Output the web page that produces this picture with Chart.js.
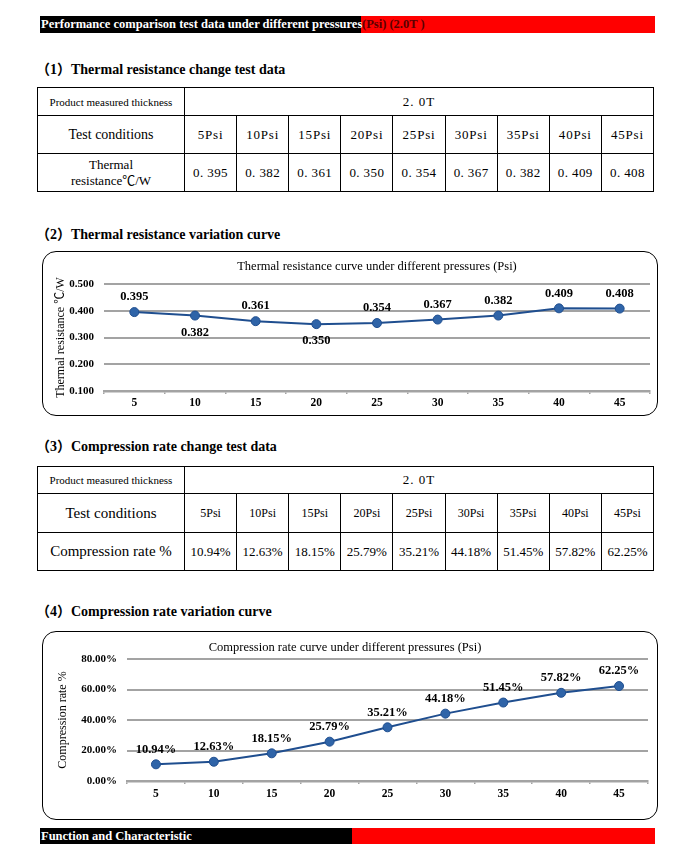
<!DOCTYPE html>
<html>
<head>
<meta charset="utf-8">
<script src="https://cdn.jsdelivr.net/npm/chart.js@4.4.0/dist/chart.umd.min.js"></script>
<style>
body { margin:0; background:#fff; font-family:'Liberation Serif','Times New Roman','Noto Sans CJK SC',serif; color:#000; }
#page { position:relative; width:700px; height:860px; overflow:hidden; }
.bar { position:absolute; left:40px; width:615px; background:#ff0000; font-weight:bold; font-size:12.5px; white-space:nowrap; overflow:hidden; }
.bar .blk { position:absolute; left:0; top:0; bottom:0; background:#000; color:#fff; padding-left:1px; box-sizing:border-box; }
.bar .rest { position:absolute; top:0; bottom:0; color:#5a0000; }
.sec { position:absolute; left:36px; font-weight:bold; font-size:14px; line-height:18px; white-space:nowrap; }
table { position:absolute; left:37px; width:617px; border-collapse:collapse; table-layout:fixed; }
td { border:1px solid #000; text-align:center; padding:0; }
.box { position:absolute; border:1.5px solid #000; border-radius:14px; box-sizing:border-box; pointer-events:none; }
canvas { position:absolute; }
</style>
</head>
<body>
<div id="page">
  <div class="bar" style="top:16px;height:17px;line-height:17px;">
    <div class="blk" style="width:321px;">Performance comparison test data under different pressures</div>
    <div class="rest" style="left:322px;">(Psi) (2.0T )</div>
  </div>

  <div class="sec" style="top:61px;">（1）Thermal resistance change test data</div>
  <table id="t1" style="top:87px;">
    <colgroup><col style="width:147px"><col span="9"></colgroup>
    <tr style="height:28px"><td style="font-size:11px">Product measured thickness</td><td colspan="9" style="font-size:13px;letter-spacing:1px">2. 0T</td></tr>
    <tr style="height:38px" id="t1cond"><td style="font-size:14px">Test conditions</td></tr>
    <tr style="height:38px" id="t1val"><td style="font-size:13px;line-height:16px">Thermal<br>resistance℃/W</td></tr>
  </table>

  <div class="sec" style="top:226px;">（2）Thermal resistance variation curve</div>
  <canvas id="c1" width="616" height="165" style="left:42px;top:251px;"></canvas>
  <div class="box" style="left:42px;top:251px;width:616px;height:165px;"></div>

  <div class="sec" style="top:438px;">（3）Compression rate change test data</div>
  <table id="t2" style="top:466px;">
    <colgroup><col style="width:147px"><col span="9"></colgroup>
    <tr style="height:27px"><td style="font-size:11px">Product measured thickness</td><td colspan="9" style="font-size:13px;letter-spacing:1px">2. 0T</td></tr>
    <tr style="height:39px" id="t2cond"><td style="font-size:15px">Test conditions</td></tr>
    <tr style="height:38px" id="t2val"><td style="font-size:15px">Compression rate %</td></tr>
  </table>

  <div class="sec" style="top:603px;">（4）Compression rate variation curve</div>
  <canvas id="c2" width="616" height="189" style="left:42px;top:631px;"></canvas>
  <div class="box" style="left:42px;top:631px;width:616px;height:189px;"></div>

  <div class="bar" style="top:828px;height:16px;line-height:16px;">
    <div class="blk" style="width:312px;">Function and Characteristic</div>
  </div>
</div>
<script>
var pressures = ['5', '10', '15', '20', '25', '30', '35', '40', '45'];
var thermalRes = [0.395, 0.382, 0.361, 0.350, 0.354, 0.367, 0.382, 0.409, 0.408];
var compRate = [10.94, 12.63, 18.15, 25.79, 35.21, 44.18, 51.45, 57.82, 62.25];
var resTickMin = 0.1, resTickMax = 0.5, resTickStep = 0.1;
var rateTickMin = 0, rateTickMax = 80, rateTickStep = 20;

var serif = "'Liberation Serif', 'Times New Roman', serif";
var serifCjk = "'Liberation Serif', 'Noto Sans CJK SC', serif";
var gridGrey = '#a3a3a3';
var lineBlue = '#1f4e8f';
var dotBlue = '#2f64a8';

// fill table cells
function fillRow(id, list, fn, style) {
    var tr = document.getElementById(id);
    for (var i = 0; i < list.length; i++) {
        var td = document.createElement('td');
        td.textContent = fn(list[i]);
        td.setAttribute('style', style);
        tr.appendChild(td);
    }
}
fillRow('t1cond', pressures, function(p){ return p + 'Psi'; }, 'font-size:13px;letter-spacing:0.8px');
fillRow('t1val', thermalRes, function(v){ return v.toFixed(3).replace('.', '. '); }, 'font-size:13px;letter-spacing:0.4px');
fillRow('t2cond', pressures, function(p){ return p + 'Psi'; }, 'font-size:12px');
fillRow('t2val', compRate, function(v){ return v.toFixed(2) + '%'; }, 'font-size:13px');

// value labels next to the points
function makeLabels(format, below) {
    return {
        id: 'pointLabels',
        afterDatasetsDraw: function(chart) {
            var ctx = chart.ctx;
            var meta = chart.getDatasetMeta(0);
            var data = chart.data.datasets[0].data;
            ctx.save();
            ctx.font = 'bold 12.5px ' + serif;
            ctx.fillStyle = '#000';
            ctx.textAlign = 'center';
            ctx.textBaseline = 'middle';
            meta.data.forEach(function(pt, i) {
                var dy = (below && below[i]) ? 17 : -15;
                ctx.fillText(format(data[i]), pt.x, pt.y + dy);
            });
            ctx.restore();
        }
    };
}

function baseOptions(o) {
    return {
        responsive: false,
        animation: false,
        layout: { padding: { left: 0, right: o.padRight, top: 0, bottom: 0 } },
        plugins: {
            legend: { display: false },
            tooltip: { enabled: false },
            title: {
                display: true,
                text: o.title,
                color: '#000',
                fullSize: o.titleFull,
                font: { family: serif, size: 12.5, weight: 'normal' },
                padding: o.titlePad
            }
        },
        scales: {
            x: {
                offset: true,
                afterFit: function(s){ s.height = o.xHeight; },
                border: { color: gridGrey, width: 2.5 },
                grid: { offset: true, drawOnChartArea: false, drawTicks: true, tickLength: 3, color: gridGrey, lineWidth: 1.5 },
                ticks: { padding: o.xPad, color: '#000', maxRotation: 0, font: { family: serif, size: 11.5, weight: 'bold' } }
            },
            y: {
                min: o.min, max: o.max,
                afterFit: function(s){ s.width = o.yWidth; },
                border: { display: false },
                grid: { color: gridGrey, lineWidth: 2, drawTicks: false },
                ticks: { stepSize: o.step, padding: 10, color: '#000', font: { family: serif, size: 11, weight: 'bold' }, callback: o.tickFmt },
                title: { display: true, text: o.yTitle, color: '#000', font: { family: serifCjk, size: 12 }, padding: { top: o.yTitlePad, bottom: 0 } }
            }
        }
    };
}

function lineDataset(values) {
    return {
        data: values,
        borderColor: lineBlue,
        borderWidth: 2,
        pointRadius: 4.5,
        pointBackgroundColor: dotBlue,
        pointBorderColor: lineBlue,
        pointBorderWidth: 1,
        tension: 0
    };
}

var chart1 = new Chart(document.getElementById('c1').getContext('2d'), {
    type: 'line',
    data: { labels: pressures, datasets: [lineDataset(thermalRes)] },
    options: baseOptions({
        title: 'Thermal resistance curve under different pressures (Psi)',
        titleFull: false,
        titlePad: { top: 8.5, bottom: 9.5 },
        padRight: 8, xHeight: 25, xPad: 2, yWidth: 62, yTitlePad: 12,
        min: resTickMin, max: resTickMax, step: resTickStep,
        tickFmt: function(v){ return Number(v).toFixed(3); },
        yTitle: 'Thermal resistance ℃/W'
    }),
    plugins: [makeLabels(function(v){ return v.toFixed(3); }, [false, true, false, true, false, false, false, false, false])]
});

var chart2 = new Chart(document.getElementById('c2').getContext('2d'), {
    type: 'line',
    data: { labels: pressures, datasets: [lineDataset(compRate)] },
    options: baseOptions({
        title: 'Compression rate curve under different pressures (Psi)',
        titleFull: true,
        titlePad: { top: 9.5, bottom: 3.5 },
        padRight: 10, xHeight: 39, xPad: 3, yWidth: 85, yTitlePad: 14,
        min: rateTickMin, max: rateTickMax, step: rateTickStep,
        tickFmt: function(v){ return Number(v).toFixed(2) + '%'; },
        yTitle: 'Compression rate %'
    }),
    plugins: [makeLabels(function(v){ return v.toFixed(2) + '%'; }, null)]
});
</script>
</body>
</html>
